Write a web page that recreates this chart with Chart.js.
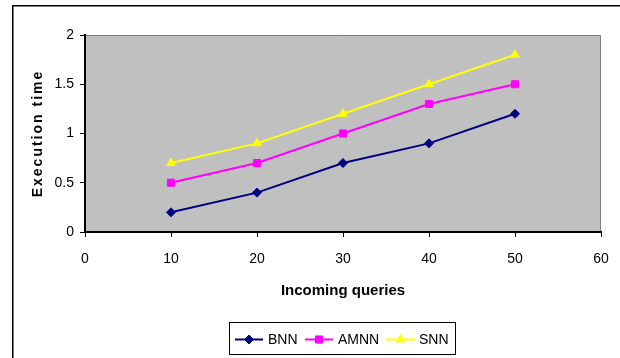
<!DOCTYPE html>
<html><head><meta charset="utf-8">
<script src="https://cdn.jsdelivr.net/npm/chart.js@4.4.0/dist/chart.umd.min.js"></script>
<style>html,body{margin:0;padding:0;background:#fff;}#wrap{width:620px;height:358px;position:relative;}</style>
</head><body><div id="wrap"><canvas id="c" width="620" height="358"></canvas></div>
<script>
const categories = [10, 20, 30, 40, 50];
const bnn  = [0.2, 0.4, 0.7, 0.9, 1.2];
const amnn = [0.5, 0.7, 1.0, 1.3, 1.5];
const snn  = [0.7, 0.9, 1.2, 1.5, 1.8];
const xTickLabels = ['0', '10', '20', '30', '40', '50', '60'];
const yTickLabels = ['0', '0.5', '1', '1.5', '2'];
const seriesNames = ['BNN', 'AMNN', 'SNN'];
const xTitle = 'Incoming queries';
const yTitle = 'Execution time';

const FONT = "'Liberation Sans', Arial, sans-serif";
const toPts = arr => categories.map((x, i) => ({x: x, y: arr[i]}));

function drawMarker(ctx, style, r, x, y, color) {
  if (Chart.helpers && Chart.helpers.drawPoint) {
    ctx.save();
    ctx.fillStyle = color; ctx.strokeStyle = color; ctx.lineWidth = 1;
    Chart.helpers.drawPoint(ctx, {pointStyle: style, radius: r, rotation: 0, borderWidth: 1}, x, y);
    ctx.restore();
    return;
  }
  ctx.save(); ctx.fillStyle = color; ctx.beginPath();
  if (style === 'rectRot') { ctx.moveTo(x - r, y); ctx.lineTo(x, y - r); ctx.lineTo(x + r, y); ctx.lineTo(x, y + r); }
  else if (style === 'rect') { const s = r * Math.SQRT1_2; ctx.rect(x - s, y - s, 2 * s, 2 * s); }
  else { ctx.moveTo(x, y - r); ctx.lineTo(x + r * 0.866, y + r / 2); ctx.lineTo(x - r * 0.866, y + r / 2); }
  ctx.closePath(); ctx.fill(); ctx.restore();
}

const framePlugin = {
  id: 'frame',
  beforeDraw(chart) {
    const {ctx, chartArea: a} = chart;
    ctx.save();
    ctx.fillStyle = '#C0C0C0';
    ctx.fillRect(a.left, a.top, a.right - a.left, a.bottom - a.top);
    ctx.strokeStyle = '#808080'; ctx.lineWidth = 1;
    ctx.beginPath();
    ctx.moveTo(a.left, a.top + 0.5); ctx.lineTo(a.right - 0.5, a.top + 0.5); ctx.lineTo(a.right - 0.5, a.bottom);
    ctx.stroke();
    // outer chart frame
    ctx.strokeStyle = '#000'; ctx.lineWidth = 1.5;
    ctx.strokeRect(12.75, 5.75, 700, 500);
    ctx.restore();
  },
  afterLayout(chart) {
    const ys = chart.scales.y;
    if (ys && !ys._wrapped) {
      const orig = ys.drawTitle;
      ys.drawTitle = function () {
        const c = this.ctx; c.save();
        try { c.letterSpacing = '2px'; } catch (e) {}
        orig.apply(this, arguments);
        c.restore();
      };
      ys._wrapped = true;
    }
  },
  afterDraw(chart) {
    const ctx = chart.ctx;
    ctx.save();
    ctx.strokeStyle = '#000'; ctx.lineWidth = 1;
    ctx.strokeRect(229.5, 322.5, 226, 32);
    const items = [
      {x0: 235, x1: 263, tx: 268},
      {x0: 305, x1: 333, tx: 338},
      {x0: 386, x1: 415, tx: 419}
    ];
    const y = 339.5;
    chart.data.datasets.forEach((ds, i) => {
      const it = items[i];
      ctx.strokeStyle = ds.borderColor; ctx.lineWidth = 2;
      ctx.beginPath(); ctx.moveTo(it.x0, y); ctx.lineTo(it.x1, y); ctx.stroke();
      drawMarker(ctx, ds.pointStyle, ds.pointRadius, (it.x0 + it.x1) / 2, y, ds.borderColor);
      ctx.fillStyle = '#000'; ctx.font = '14px ' + FONT;
      ctx.textBaseline = 'middle'; ctx.textAlign = 'left';
      ctx.fillText(ds.label, it.tx, y + 0.5);
    });
    ctx.restore();
  }
};

new Chart(document.getElementById('c'), {
  type: 'scatter',
  data: {
    datasets: [
      {label: seriesNames[0], data: toPts(bnn), showLine: true, borderColor: '#000080', backgroundColor: '#000080', borderWidth: 2, pointStyle: 'rectRot', pointRadius: 4.5, pointBorderWidth: 1},
      {label: seriesNames[1], data: toPts(amnn), showLine: true, borderColor: '#FF00FF', backgroundColor: '#FF00FF', borderWidth: 2, pointStyle: 'rect', pointRadius: 5, pointBorderWidth: 1},
      {label: seriesNames[2], data: toPts(snn), showLine: true, borderColor: '#FFFF00', backgroundColor: '#FFFF00', borderWidth: 2, pointStyle: 'triangle', pointRadius: 5, pointBorderWidth: 1}
    ]
  },
  options: {
    responsive: false,
    animation: false,
    devicePixelRatio: 1,
    layout: {padding: {left: 0, top: 35, right: 19, bottom: 58}},
    plugins: {legend: {display: false}, tooltip: {enabled: false}},
    elements: {line: {tension: 0}},
    scales: {
      x: {
        type: 'linear', min: 0, max: 60,
        ticks: {stepSize: 10, color: '#000', font: {family: FONT, size: 14}, padding: 14, maxRotation: 0,
          callback: (v, i) => xTickLabels[i]},
        grid: {drawOnChartArea: false, drawTicks: true, tickLength: 5, color: '#000', lineWidth: 1},
        border: {display: true, color: '#000', width: 2},
        title: {display: true, text: xTitle, color: '#000', font: {family: FONT, size: 15, weight: 'bold'}, padding: {top: 0, bottom: 0}},
        afterFit: s => { s.height = 68; s.paddingLeft = 0; s.paddingRight = 0; }
      },
      y: {
        type: 'linear', min: 0, max: 2,
        ticks: {stepSize: 0.5, color: '#000', font: {family: FONT, size: 14}, padding: 6,
          callback: (v, i) => yTickLabels[i]},
        grid: {drawOnChartArea: false, drawTicks: true, tickLength: 5, color: '#000', lineWidth: 1},
        border: {display: true, color: '#000', width: 2},
        title: {display: true, text: yTitle, color: '#000', font: {family: FONT, size: 14, weight: 'bold'}, padding: {top: 30, bottom: 0}},
        afterFit: s => { s.width = 85; s.paddingTop = 0; s.paddingBottom = 0; }
      }
    }
  },
  plugins: [framePlugin]
});
</script></body></html>
